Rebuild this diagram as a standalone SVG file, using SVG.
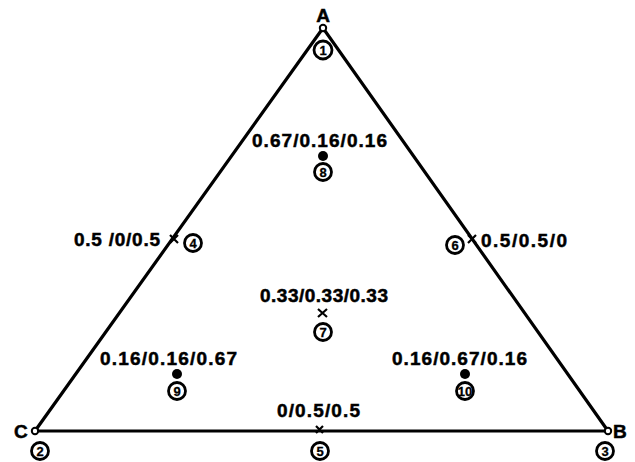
<svg xmlns="http://www.w3.org/2000/svg" width="635" height="462" viewBox="0 0 635 462">
<style>
.lbl{font-family:"Liberation Sans",Arial,sans-serif;font-weight:bold;font-size:19px;fill:#000;stroke:#000;stroke-width:0.5}
.num{font-family:"Liberation Sans",Arial,sans-serif;font-weight:bold;font-size:13px;fill:#000;text-anchor:middle;stroke:#000;stroke-width:0.3}
.ring{fill:#fff;stroke:#000;stroke-width:2.8}
.edge{stroke:#000;stroke-width:3.2;fill:none;stroke-linecap:round}
.vtx{fill:#fff;stroke:#000;stroke-width:2}
.cross{stroke:#000;stroke-width:2.2}
</style>
<rect width="635" height="462" fill="#fff"/>
<g id="connectors">
<path class="edge" d="M323,28 L35,431 L608,431 Z"/>
</g>
<g id="nA"><circle class="vtx" cx="323" cy="28" r="3.2"/><text class="lbl" x="323" y="22" text-anchor="middle">A</text></g>
<g id="n1"><circle class="ring" cx="323" cy="50" r="9"/><text class="num" x="323" y="55">1</text></g>
<g id="nC"><circle class="vtx" cx="35" cy="431" r="3.2"/><text class="lbl" x="14" y="438">C</text></g>
<g id="n2"><circle class="ring" cx="40" cy="451" r="8.5"/><text class="num" x="40" y="456">2</text></g>
<g id="nB"><circle class="vtx" cx="608" cy="431" r="3.2"/><text class="lbl" x="613" y="438">B</text></g>
<g id="n3"><circle class="ring" cx="605" cy="451" r="8.5"/><text class="num" x="605" y="456">3</text></g>
<g id="n4">
<path class="cross" d="M170,235 l8,8 M178,235 l-8,8"/>
<text class="lbl" x="74" y="246" textLength="86">0.5 /0/0.5</text>
<circle class="ring" cx="193" cy="243" r="8.5"/><text class="num" x="193" y="248">4</text></g>
<g id="n6">
<path class="cross" d="M468,235 l8,8 M476,235 l-8,8"/>
<text class="lbl" x="481" y="247" textLength="86">0.5/0.5/0</text>
<circle class="ring" cx="455" cy="245" r="8.5"/><text class="num" x="455" y="250">6</text></g>
<g id="n8">
<text class="lbl" x="252" y="147" textLength="135">0.67/0.16/0.16</text>
<circle cx="323" cy="156" r="5" fill="#000"/>
<circle class="ring" cx="323" cy="172" r="8.5"/><text class="num" x="323" y="177">8</text></g>
<g id="n7">
<text class="lbl" x="260" y="302" textLength="128">0.33/0.33/0.33</text>
<path class="cross" d="M318,309 l9,8 M327,309 l-9,8"/>
<circle class="ring" cx="323" cy="332" r="8.5"/><text class="num" x="323" y="337">7</text></g>
<g id="n9">
<text class="lbl" x="100" y="365" textLength="137">0.16/0.16/0.67</text>
<circle cx="177" cy="374" r="5" fill="#000"/>
<circle class="ring" cx="177" cy="391" r="8.5"/><text class="num" x="177" y="396">9</text></g>
<g id="n10">
<text class="lbl" x="392" y="365" textLength="135">0.16/0.67/0.16</text>
<circle cx="465" cy="374" r="5" fill="#000"/>
<circle class="ring" cx="465" cy="391" r="8.5"/><text class="num" x="465" y="395.5" font-size="11">10</text></g>
<g id="n5">
<text class="lbl" x="277" y="417" textLength="83">0/0.5/0.5</text>
<path class="cross" d="M316,426 l7,7 M323,426 l-7,7"/>
<circle class="ring" cx="320" cy="451" r="8.5"/><text class="num" x="320" y="456">5</text></g>
</svg>
